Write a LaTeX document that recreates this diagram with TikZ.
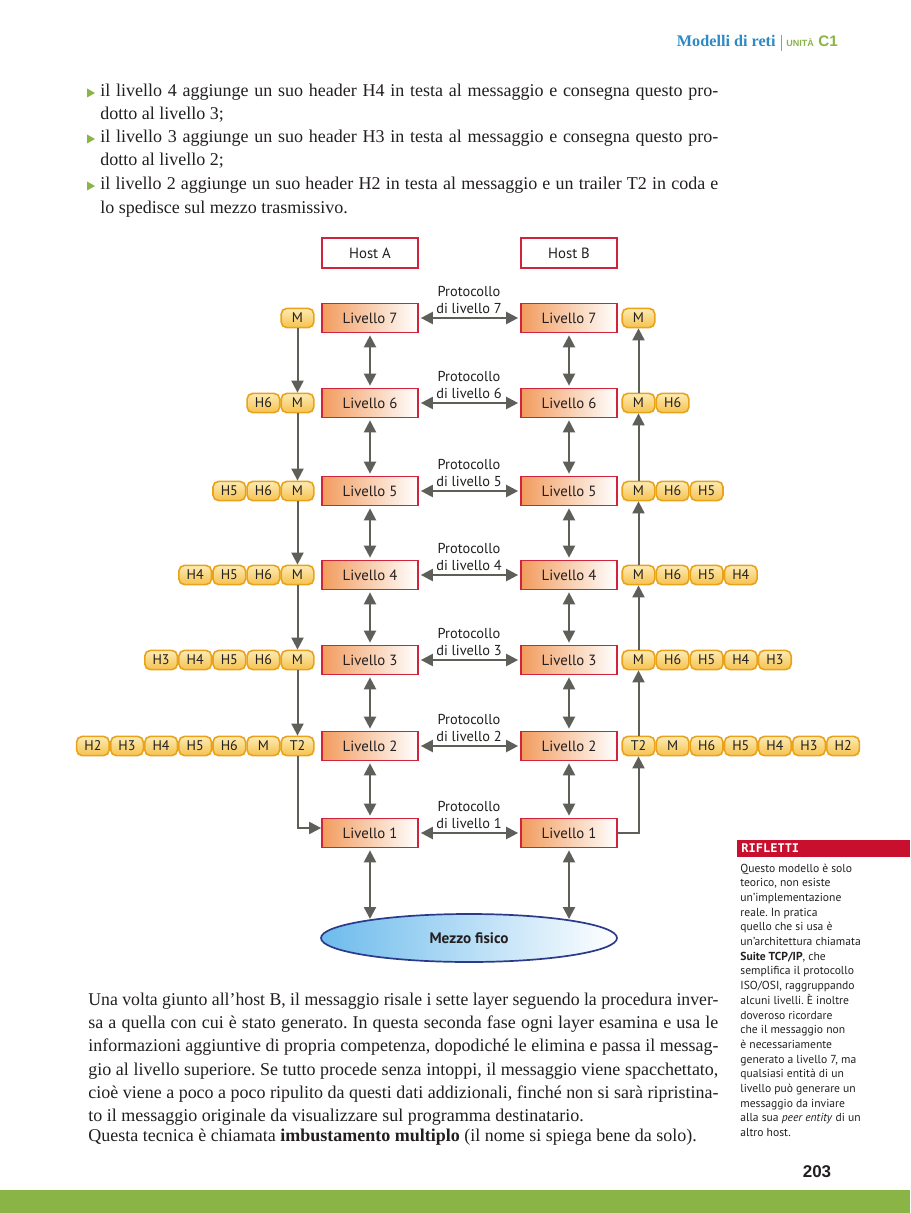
\documentclass[tikz,border=0pt]{standalone}
\usepackage{fontspec}
\usepackage{graphicx}
\setmainfont{Liberation Serif}
\newfontfamily\dgf{PT Sans}
\newfontfamily\monof{DejaVu Sans Mono}
\newfontfamily\headsans{Liberation Sans}
\usetikzlibrary{arrows.meta,shapes.geometric,calc}
\definecolor{redb}{HTML}{D2233C}
\definecolor{arrg}{HTML}{5F5F5A}
\definecolor{pillb}{HTML}{E9A21A}
\definecolor{pilltop}{HTML}{FCEBB4}
\definecolor{pillbot}{HTML}{F6C24E}
\definecolor{lvor}{HTML}{F29C5E}
\definecolor{ellb}{HTML}{6DBBEC}
\definecolor{elld}{HTML}{2B3B8A}
\definecolor{grn}{HTML}{8AB446}
\definecolor{blu}{HTML}{2C8AC6}
\definecolor{rifred}{HTML}{C8102E}
\definecolor{txt}{HTML}{231F20}
\newlength\lw
\newlength\tmpw
\newcommand\jl[2]{\setlength\lw{#1}\settowidth\tmpw{#2}\ifdim\tmpw>\lw\resizebox{\lw}{\height}{#2}\else\makebox[\lw][s]{#2}\fi}
\frenchspacing
\begin{document}
\begin{tikzpicture}[x=0.5pt,y=-0.5pt,
  hostbox/.style={draw=redb,line width=0.85pt,fill=white,minimum width=48pt,minimum height=15pt,inner sep=0,font=\dgf\fontsize{7.4}{8}\selectfont,text=txt},
  lvl/.style={draw=redb,line width=0.85pt,left color=lvor,right color=white,minimum width=48pt,minimum height=14.5pt,inner sep=0,font=\dgf\fontsize{7.4}{8}\selectfont,text=txt},
  proto/.style={align=center,inner sep=0,font=\dgf\fontsize{7.2}{8.5}\selectfont,text=txt},
  pill/.style={draw=pillb,line width=0.8pt,rounded corners=2.8pt,top color=pilltop,bottom color=pillbot,minimum width=16.3pt,minimum height=9.6pt,inner sep=0,font=\dgf\fontsize{7}{7}\selectfont,text=txt},
  dbl/.style={arrg,line width=1.1pt,{Triangle[length=6pt,width=6pt]}-{Triangle[length=6pt,width=6pt]}},
  flow/.style={arrg,line width=1pt,-{Triangle[length=6pt,width=6pt]}},
  btxt/.style={anchor=base west,inner sep=0,font=\fontsize{9}{11}\selectfont,text=txt},
  stxt/.style={anchor=base west,inner sep=0,font=\dgf\fontsize{5.8}{7}\selectfont,text=txt}]
\useasboundingbox (0,0) rectangle (910,1213);
\fill[white] (0,0) rectangle (910,1213);
% header
\node[anchor=base east,inner sep=0,text=blu,font=\bfseries\fontsize{8.1}{9}\selectfont] (hd) at (776,47) {Modelli di reti};
\draw[grn,line width=0.5pt] (781,35) -- (781,51);
\node[anchor=base west,inner sep=0,text=grn,font=\headsans\bfseries\fontsize{4.5}{5}\selectfont] (un) at (786,47) {UNITÀ};
\node[anchor=base west,inner sep=0,text=grn,font=\headsans\bfseries\fontsize{7.6}{8}\selectfont] (c1) at (818,47) {C1};
% bullets
\foreach \c in {93,139,186} \fill[grn] (87,\c-4.5) -- (95,\c) -- (87,\c+4.5) -- cycle;
\node[btxt] (b1a) at (100,97) {\jl{309pt}{il livello 4 aggiunge un suo header H4 in testa al messaggio e consegna questo pro-}};
\node[btxt] (b1b) at (100,120) {dotto al livello 3;};
\node[btxt] (b2a) at (100,143) {\jl{309pt}{il livello 3 aggiunge un suo header H3 in testa al messaggio e consegna questo pro-}};
\node[btxt] (b2b) at (100,166) {dotto al livello 2;};
\node[btxt] (b3a) at (100,190) {\jl{309pt}{il livello 2 aggiunge un suo header H2 in testa al messaggio e un trailer T2 in coda e}};
\node[btxt] (b3b) at (100,214) {lo spedisce sul mezzo trasmissivo.};
% hosts
\node[hostbox] (hA) at (370,253) {Host A};
\node[hostbox] (hB) at (569,253) {Host B};
% levels
\foreach \n/\y in {7/318,6/403,5/491,4/575,3/660,2/746,1/833} {
  \node[lvl] (La\n) at (370,\y) {Livello \n};
  \node[lvl] (Lb\n) at (569,\y) {Livello \n};
  \node[proto] (P\n) at (469,\y-18.5) {Protocollo\\di livello \n};
  \draw[dbl,shorten <=1pt,shorten >=1pt] (La\n) -- (Lb\n);
}
\foreach \a/\b in {7/6,6/5,5/4,4/3,3/2,2/1} {
  \draw[dbl,shorten <=1pt,shorten >=1pt] (La\a) -- (La\b);
  \draw[dbl,shorten <=1pt,shorten >=1pt] (Lb\a) -- (Lb\b);
}
% physical medium
\node[ellipse,draw=elld,line width=0.85pt,left color=ellb,right color=white,minimum width=148pt,minimum height=24pt,inner sep=0,font=\dgf\bfseries\fontsize{7.6}{8}\selectfont,text=txt] (ell) at (469,938) {Mezzo fisico};
\coordinate (ea) at (370,919);
\coordinate (eb) at (569,919);
\draw[dbl,shorten <=1pt] (La1) -- (ea);
\draw[dbl,shorten <=1pt] (Lb1) -- (eb);
% pills rows 7..3
\foreach \n/\y in {7/318,6/403,5/491,4/575,3/660} {
  \node[pill] (aM\n) at (297.5,\y) {M};
  \node[pill] (bM\n) at (638.5,\y) {M};
}
\foreach \n/\y in {6/403,5/491,4/575,3/660} {
  \foreach \k in {\n,...,6} {
    \node[pill] (aH\n\k) at ({297.5-34.1*(7-\k)},\y) {H\k};
    \node[pill] (bH\n\k) at ({638.5+34.1*(7-\k)},\y) {H\k};
  }
}
% row 2 pills
\node[pill] (aT2) at (297.5,746) {T2};
\node[pill] (aM2) at (263.4,746) {M};
\node[pill] (bT2) at (638.5,746) {T2};
\node[pill] (bM2) at (672.6,746) {M};
\foreach \k in {2,...,6} {
  \node[pill] (aH2\k) at ({297.5-34.1*(8-\k)},746) {H\k};
  \node[pill] (bH2\k) at ({638.5+34.1*(8-\k)},746) {H\k};
}
% flows
\draw[flow] (aM7) -- (aM6);
\draw[flow] (aM6) -- (aM5);
\draw[flow] (aM5) -- (aM4);
\draw[flow] (aM4) -- (aM3);
\draw[flow] (aM3) -- (aT2);
\draw[flow] (aT2) |- ([yshift=2.5pt]La1.west);
\draw[flow] (Lb1) -| (bT2);
\draw[flow] (bT2) -- (bM3);
\draw[flow] (bM3) -- (bM4);
\draw[flow] (bM4) -- (bM5);
\draw[flow] (bM5) -- (bM6);
\draw[flow] (bM6) -- (bM7);
% sidebar
\fill[rifred] (737,840) rectangle (910,857);
\node[anchor=west,inner sep=0,text=white,font=\monof\bfseries\fontsize{6}{6}\selectfont] (rif) at (741,848.5) {RIFLETTI};
\foreach [count=\i] \t in {Questo modello è solo,{teorico, non esiste},un’implementazione,reale. In pratica,quello che si usa è,un’architettura chiamata,{\textbf{Suite TCP/IP}, che},semplifica il protocollo,{ISO/OSI, raggruppando},alcuni livelli. È inoltre,doveroso ricordare,che il messaggio non,è necessariamente,{generato a livello 7, ma},qualsiasi entità di un,livello può generare un,messaggio da inviare,alla sua \textit{peer entity} di un,altro host.}
  \node[stxt] (s\i) at (740,{872+14.7*(\i-1)}) {\t};
% paragraph
\node[btxt] (p1) at (88,1005) {\jl{315pt}{Una volta giunto all’host B, il messaggio risale i sette layer seguendo la procedura inver-}};
\node[btxt] (p2) at (88,1028) {\jl{315pt}{sa a quella con cui è stato generato. In questa seconda fase ogni layer esamina e usa le}};
\node[btxt] (p3) at (88,1051) {\jl{315pt}{informazioni aggiuntive di propria competenza, dopodiché le elimina e passa il messag-}};
\node[btxt] (p4) at (88,1075) {\jl{315pt}{gio al livello superiore. Se tutto procede senza intoppi, il messaggio viene spacchettato,}};
\node[btxt] (p5) at (88,1098) {\jl{315pt}{cioè viene a poco a poco ripulito da questi dati addizionali, finché non si sarà ripristina-}};
\node[btxt] (p6) at (88,1121) {to il messaggio originale da visualizzare sul programma destinatario.};
\node[btxt] (p7) at (88,1141) {Questa tecnica è chiamata \textbf{imbustamento multiplo} (il nome si spiega bene da solo).};
% page number and bar
\node[inner sep=0,font=\headsans\bfseries\fontsize{8.5}{9}\selectfont,text=txt] (pg) at (817,1172) {203};
\fill[grn] (0,1190) rectangle (910,1213);
\end{tikzpicture}
\end{document}
